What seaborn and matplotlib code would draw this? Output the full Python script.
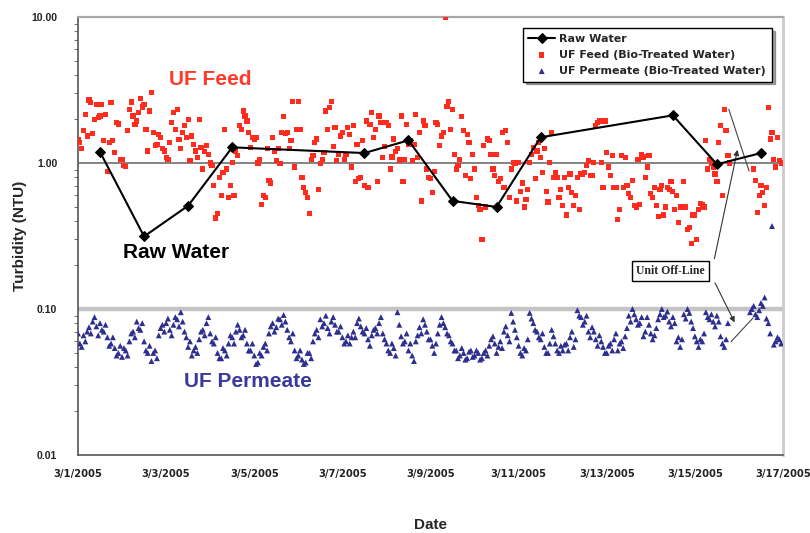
import numpy as np
import pandas as pd
import matplotlib
matplotlib.use("Agg")
import matplotlib.pyplot as plt
import matplotlib.dates as mdates
import matplotlib.ticker as mticker
import seaborn as sns

nan = np.nan
start = "2005-03-01"
samples_per_day = 12  # each list: one reading every 2 hours

# UF Feed (Bio-Treated Water) turbidity, NTU - even-hour readings
feed_ntu = [
    1.45, 1.25, 2.15, 2.7, 1.6, 2.5, 2.1, 1.42, 0.87, 2.6, 1.18, 1.85,      # 3/1
    1.06, 0.95, 2.33, 2.1, 1.94, 2.78, 2.52, 1.21, 3.03, 1.31, 1.57, 1.25,  # 3/2
    1.09, 1.38, 2.21, 2.33, 1.25, 1.8, 1.99, 1.53, 1.21, 1.99, 0.91, 1.31,  # 3/3
    1.0, 0.7, 0.45, 0.6, 1.7, 0.58, 1.01, 1.21, 1.8, 2.27, 1.94, 1.28,      # 3/4
    1.45, 1.0, 0.52, 0.58, 0.76, 1.5, 1.04, 0.99, 2.07, 1.62, 1.42, 0.94,   # 3/5
    2.64, 0.8, 0.63, 0.45, 1.12, 1.46, 0.99, 1.18, 1.7, 2.64, 1.75, 1.15,   # 3/6
    1.62, 1.15, 1.57, 1.8, 1.34, 0.8, 0.7, 0.68, 2.21, 1.7, 2.1, 1.09,      # 3/7
    1.89, 0.91, 1.46, 1.25, 2.1, 1.06, 1.34, 1.04, 2.15, 1.62, 1.94, 0.91,  # 3/8
    0.78, 0.88, 1.84, 1.53, 10.0, 2.64, 2.33, 0.91, 1.06, 1.66, 1.57, 0.78, # 3/9
    0.91, 0.51, 0.3, 0.5, 1.42, 0.91, 1.15, 0.78, 0.68, 1.38, 0.91, 0.99,   # 3/10
    1.01, 0.73, 0.56, 1.01, 1.28, 1.21, 1.09, 1.25, 0.54, 1.62, 0.86, 0.58, # 3/11
    0.51, 0.44, 0.84, 0.51, 0.8, 0.84, 0.86, 1.04, 0.82, 1.8, 1.94, 0.68,   # 3/12
    1.18, 0.82, 0.68, 0.41, 1.12, 1.09, 0.62, 0.76, 0.5, 0.52, 1.1, 0.94,   # 3/13
    0.62, 0.68, 0.43, 0.7, 0.5, 0.66, 0.64, 0.6, 0.5, 0.75, 0.35, 0.28,     # 3/14
    0.44, 0.48, 0.52, 1.42, 1.06, 0.94, 0.75, 1.8, 2.33, 1.12, nan, nan,    # 3/15
    nan, nan, nan, nan, 0.91, 0.46, 0.7, 0.51, 2.4, 1.62, 0.94, 1.04,       # 3/16
]
# UF Feed - odd-hour readings
feed_ntu_odd = [
    1.38, 1.66, 1.53, 2.6, 1.99, 2.05, 2.52, 2.15, 1.38, 1.42, 1.89, 1.06,
    0.96, 1.66, 2.62, 1.84, 2.21, 2.42, 1.7, 2.27, 1.62, 1.34, 1.5, 1.21,
    1.06, 1.89, 1.7, 1.45, 1.62, 1.5, 1.04, 1.34, 1.09, 1.28, 1.2, 1.15,
    0.96, 0.42, 0.8, 0.86, 0.91, 0.7, 0.6, 1.12, 1.7, 2.1, 1.62, 1.5,
    1.5, 1.06, 0.6, 1.25, 0.73, 1.21, 1.25, 1.62, 1.6, 1.25, 2.64, 1.7,
    1.7, 0.68, 0.58, 1.06, 1.38, 0.66, 1.06, 2.27, 2.4, 1.3, 1.04, 1.53,
    1.06, 1.75, 0.94, 0.75, 0.78, 1.42, 1.94, 1.84, 1.5, 0.75, 1.89, 1.3,
    1.8, 1.1, 1.2, 1.05, 0.75, 1.84, 1.42, 1.34, 1.09, 0.55, 1.8, 0.8,
    0.63, 1.89, 1.31, 1.62, 2.45, 1.7, 1.15, 0.96, 2.07, 0.82, 1.38, 1.15,
    0.58, 0.48, 1.31, 1.46, 1.15, 0.82, 0.75, 1.62, 1.66, 0.58, 1.01, 0.55,
    0.64, 0.5, 0.66, 1.15, 0.78, 1.38, 0.86, 0.64, 1.01, 0.8, 0.8, 0.66,
    0.8, 0.68, 0.63, 0.6, 0.48, 0.84, 0.96, 0.82, 1.01, 1.89, 1.01, 1.94,
    0.94, 1.12, 0.68, 0.48, 0.68, 0.7, 0.58, 0.51, 1.06, 1.15, 0.8, 1.12,
    0.58, 0.51, 0.66, 0.44, 0.68, 0.75, 0.48, 0.39, 0.5, 0.5, 0.36, 0.44,
    0.3, 0.53, 0.5, 0.91, 0.99, 0.84, 1.38, 0.6, 1.66, 1.0, nan, nan,
    nan, nan, nan, nan, 0.76, 0.6, 0.63, 0.68, 1.46, 1.06, 1.5, 1.0,
]

# UF Permeate (Bio-Treated Water) turbidity, NTU - even-hour readings
perm_ntu = [
    0.068, 0.055, 0.06, 0.075, 0.082, 0.076, 0.08, 0.07, 0.064, 0.058, 0.054, 0.05,
    0.047, 0.052, 0.06, 0.07, 0.082, 0.072, 0.06, 0.05, 0.044, 0.052, 0.066, 0.078,
    0.08, 0.072, 0.078, 0.085, 0.095, 0.07, 0.055, 0.048, 0.055, 0.062, 0.072, 0.08,
    0.068, 0.058, 0.05, 0.046, 0.052, 0.058, 0.064, 0.07, 0.072, 0.066, 0.058, 0.052,
    0.048, 0.043, 0.048, 0.058, 0.068, 0.08, 0.075, 0.085, 0.091, 0.072, 0.06, 0.052,
    0.048, 0.045, 0.043, 0.05, 0.06, 0.072, 0.085, 0.08, 0.074, 0.082, 0.078, 0.07,
    0.064, 0.06, 0.058, 0.07, 0.08, 0.076, 0.068, 0.062, 0.066, 0.074, 0.08, 0.068,
    0.058, 0.05, 0.054, 0.095, 0.065, 0.06, 0.052, 0.048, 0.06, 0.075, 0.085, 0.07,
    0.062, 0.05, 0.068, 0.088, 0.075, 0.066, 0.058, 0.052, 0.048, 0.05, 0.046, 0.052,
    0.048, 0.05, 0.046, 0.052, 0.056, 0.065, 0.05, 0.06, 0.07, 0.066, 0.094, 0.072,
    0.056, 0.048, 0.052, 0.094, 0.08, 0.07, 0.062, 0.055, 0.05, 0.072, 0.058, 0.05,
    0.052, 0.058, 0.064, 0.055, 0.098, 0.088, 0.082, 0.07, 0.075, 0.062, 0.066, 0.055,
    0.05, 0.058, 0.062, 0.052, 0.06, 0.065, 0.09, 0.1, 0.085, 0.08, 0.065, 0.088,
    0.068, 0.066, 0.085, 0.1, 0.09, 0.082, 0.088, 0.06, 0.055, 0.092, 0.1, 0.082,
    0.065, 0.055, 0.06, 0.095, 0.085, 0.082, 0.09, 0.065, 0.055, 0.08, nan, nan,
    nan, nan, nan, 0.095, 0.105, 0.088, 0.11, 0.12, 0.08, 0.37, 0.06, 0.062,
]
# UF Permeate - odd-hour readings
perm_ntu_odd = [
    0.058, 0.066, 0.07, 0.068, 0.088, 0.066, 0.072, 0.078, 0.056, 0.064, 0.048, 0.056,
    0.054, 0.048, 0.068, 0.064, 0.074, 0.08, 0.052, 0.056, 0.05, 0.046, 0.074, 0.07,
    0.086, 0.066, 0.088, 0.076, 0.082, 0.064, 0.06, 0.052, 0.05, 0.07, 0.066, 0.088,
    0.06, 0.064, 0.046, 0.054, 0.048, 0.066, 0.058, 0.078, 0.064, 0.072, 0.052, 0.058,
    0.042, 0.05, 0.055, 0.052, 0.076, 0.07, 0.086, 0.078, 0.082, 0.064, 0.068, 0.046,
    0.052, 0.042, 0.05, 0.046, 0.068, 0.064, 0.076, 0.09, 0.068, 0.088, 0.07, 0.076,
    0.058, 0.066, 0.064, 0.064, 0.086, 0.07, 0.074, 0.056, 0.072, 0.068, 0.088, 0.062,
    0.052, 0.058, 0.048, 0.078, 0.058, 0.068, 0.058, 0.044, 0.066, 0.068, 0.078, 0.062,
    0.056, 0.058, 0.078, 0.08, 0.068, 0.06, 0.052, 0.046, 0.054, 0.045, 0.051, 0.047,
    0.052, 0.045, 0.05, 0.048, 0.062, 0.058, 0.055, 0.054, 0.076, 0.06, 0.082, 0.064,
    0.05, 0.054, 0.062, 0.086, 0.072, 0.064, 0.068, 0.05, 0.058, 0.065, 0.052, 0.056,
    0.057, 0.052, 0.07, 0.062, 0.09, 0.078, 0.09, 0.064, 0.07, 0.056, 0.06, 0.05,
    0.056, 0.052, 0.068, 0.058, 0.054, 0.074, 0.082, 0.092, 0.078, 0.088, 0.07, 0.078,
    0.062, 0.074, 0.092, 0.088, 0.096, 0.076, 0.08, 0.064, 0.062, 0.086, 0.094, 0.074,
    0.06, 0.062, 0.068, 0.088, 0.092, 0.076, 0.082, 0.058, 0.062, nan, nan, nan,
    nan, nan, nan, 0.1, 0.092, 0.098, 0.105, 0.086, 0.068, 0.057, 0.064, 0.058,
]

# Raw Water grab samples
raw_dates = ["2005-03-01 12:00", "2005-03-02 12:00", "2005-03-03 12:00",
             "2005-03-04 12:00", "2005-03-07 12:00", "2005-03-08 12:00",
             "2005-03-09 12:00", "2005-03-10 12:00", "2005-03-11 12:00",
             "2005-03-14 12:00", "2005-03-15 12:00", "2005-03-16 12:00"]
raw_ntu = [1.19, 0.314, 0.51, 1.28, 1.17, 1.43, 0.55, 0.50, 1.50, 2.12, 0.98, 1.17]

y_ticks = [0.01, 0.1, 1.0, 10.0]
y_tick_labels = ["0.01", "0.10", "1.00", "10.00"]

# ---------------------------------------------------------------------------
sns.set_style("white")
plt.rcParams["font.family"] = ["Liberation Sans", "DejaVu Sans"]

base = pd.Timestamp(start)
def d(day):
    return mdates.date2num(base + pd.Timedelta(days=day))

step_h = 24 / samples_per_day
t_even = base + pd.to_timedelta(np.arange(len(feed_ntu)) * step_h, unit="h")
t_odd = t_even + pd.Timedelta(hours=step_h / 2)
cont = pd.concat([
    pd.DataFrame({"time": t_even, "feed": feed_ntu, "perm": perm_ntu}),
    pd.DataFrame({"time": t_odd, "feed": feed_ntu_odd, "perm": perm_ntu_odd}),
], ignore_index=True).sort_values("time").reset_index(drop=True)
raw = pd.DataFrame({"time": pd.to_datetime(raw_dates), "ntu": raw_ntu})

fig = plt.figure(figsize=(8.1, 5.33), dpi=100)
ax = fig.add_axes([78 / 810, 1 - 455 / 533, 705 / 810, 438 / 533])

ax.axhline(1.0, color="#7a7a7a", lw=1.3, zorder=1)
ax.axhline(0.1, color="#c4c4c4", lw=3.2, zorder=1)

sns.lineplot(data=raw, x="time", y="ntu", ax=ax, color="black", lw=1.5,
             marker="D", markersize=5.5, markeredgecolor="black",
             label="Raw Water", zorder=5)
sns.scatterplot(data=cont, x="time", y="feed", ax=ax, color="#ff2b1c",
                marker="s", s=14, edgecolor="none", label="UF Feed (Bio-Treated Water)",
                zorder=3)
sns.scatterplot(data=cont, x="time", y="perm", ax=ax, color="#2e2e8e",
                marker="^", s=18, edgecolor="none",
                label="UF Permeate (Bio-Treated Water)", zorder=3)

ax.set_yscale("log")
ax.set_ylim(0.01, 10)
ax.set_xlim(d(0), d(16))
ax.yaxis.set_major_locator(mticker.FixedLocator(y_ticks))
ax.yaxis.set_major_formatter(mticker.FixedFormatter(y_tick_labels))
ax.yaxis.set_minor_locator(mticker.LogLocator(base=10, subs=np.arange(2, 10)))
ax.yaxis.set_minor_formatter(mticker.NullFormatter())

ax.xaxis.set_major_locator(mdates.DayLocator(bymonthday=range(1, 32, 2)))
ax.xaxis.set_major_formatter(mdates.DateFormatter("%-m/%-d/%Y"))
ax.xaxis.set_minor_locator(mticker.FixedLocator([d(k * 0.4) for k in range(41)]))

ax.tick_params(axis="x", which="major", direction="inout", length=8, width=1,
               color="#555555", labelsize=7.2, pad=6, labelcolor="#222222")
ax.tick_params(axis="x", which="minor", direction="inout", length=4, width=0.8,
               color="#777777")
ax.tick_params(axis="y", which="major", direction="out", length=5, width=1,
               color="#555555", labelsize=7.5, pad=10, labelcolor="#222222")
ax.tick_params(axis="y", which="minor", direction="out", length=3, width=0.8,
               color="#777777", left=True)
for lab in ax.get_xticklabels():
    lab.set_fontweight("bold")
    lab.set_family("DejaVu Sans")
for lab in ax.get_yticklabels():
    lab.set_fontweight("bold")

for side, col, lw in [("left", "#555555", 1.2), ("bottom", "#555555", 1.2),
                      ("top", "#a8a8a8", 1.6), ("right", "#cccccc", 2.0)]:
    ax.spines[side].set_visible(True)
    ax.spines[side].set_color(col)
    ax.spines[side].set_linewidth(lw)

ax.set_xlabel("Date", fontsize=11, fontweight="bold")
ax.set_ylabel("Turbidity (NTU)", fontsize=11, fontweight="bold")
ax.xaxis.set_label_coords(0.5, -0.143)
ax.yaxis.set_label_coords(-0.073, 0.5)

leg = ax.legend(loc="upper right", bbox_to_anchor=(0.992, 0.987), frameon=True,
                fancybox=False, shadow=True, edgecolor="black",
                prop={"weight": "bold", "size": 8, "family": "DejaVu Sans"},
                handlelength=2.4, labelspacing=0.55, borderpad=0.5,
                handletextpad=0.4)
leg.get_frame().set_linewidth(1.0)

ax.text(d(3.0), 3.73, "UF Feed", color="#ff3a2a", fontsize=15,
        fontweight="bold", ha="center", va="center")
ax.text(d(2.23), 0.244, "Raw Water", color="black", fontsize=15,
        fontweight="bold", ha="center", va="center")
ax.text(d(3.86), 0.0319, "UF Permeate", color="#3a3a9a", fontsize=15,
        fontweight="bold", ha="center", va="center")

ax.text(d(13.45), 0.183, "Unit Off-Line", fontsize=8.5, family="Liberation Serif",
        fontweight="bold", ha="center", va="center", zorder=6,
        bbox=dict(boxstyle="square,pad=0.35", fc="white", ec="black", lw=1))
ax.annotate("", xy=(d(14.98), 1.285), xytext=(d(14.43), 0.212),
            arrowprops=dict(arrowstyle="-|>", color="#333333", lw=0.8, mutation_scale=8))
ax.annotate("", xy=(d(14.93), 0.0778), xytext=(d(14.43), 0.157),
            arrowprops=dict(arrowstyle="-|>", color="#333333", lw=0.8, mutation_scale=8))
ax.plot([d(14.77), d(15.23)], [2.33, 0.882], color="#444444", lw=0.8, zorder=4)
ax.plot([d(14.82), d(15.32)], [0.0597, 0.0868], color="#444444", lw=0.8, zorder=4)

fig.savefig("out.png", dpi=100)
